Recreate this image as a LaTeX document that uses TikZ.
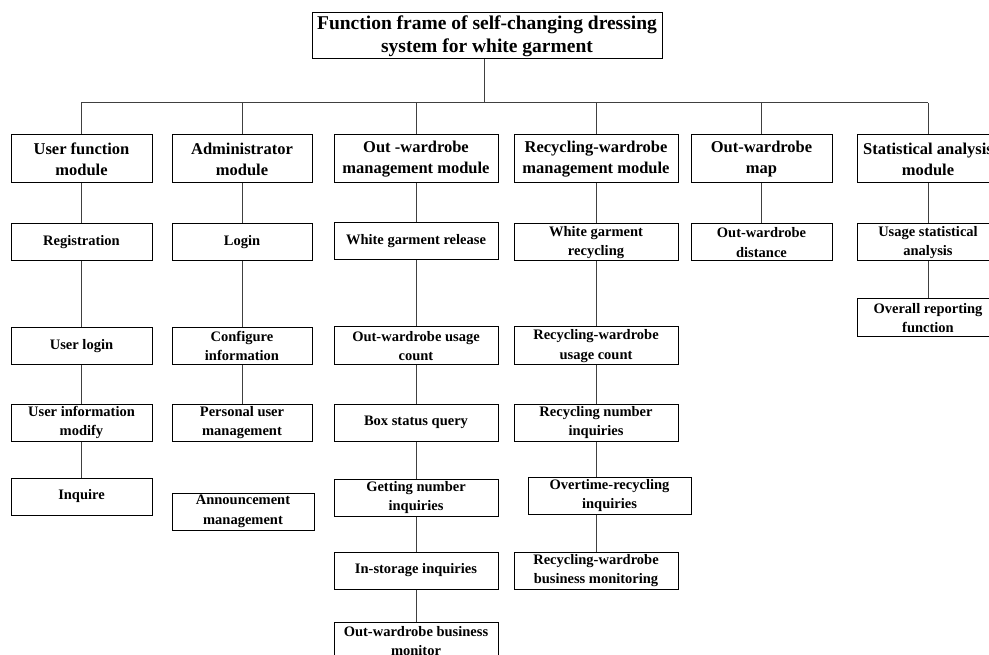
\documentclass[tikz,border=0pt]{standalone}
\usepackage{fontspec}
\setmainfont{Liberation Serif}
\begin{document}
\begin{tikzpicture}[x=1pt,y=-1pt,
  box/.style={draw=black,line width=1pt,fill=white,inner sep=0pt,align=center,font=\bfseries\fontsize{14.5}{19.5}\selectfont},
  modbox/.style={box,minimum height=48pt,font=\bfseries\fontsize{16.5}{21}\selectfont},
  subbox/.style={box,minimum height=37pt},
  titlebox/.style={box,minimum height=46pt,minimum width=350pt,font=\bfseries\fontsize{19.5}{23}\selectfont},
  link/.style={draw=black!75,line width=1pt}]
\clip (0,0) rectangle (989,655);
\fill[white] (0,0) rectangle (989,655);

% title
\node[titlebox] (title) at (487,36) {Function frame of self-changing dressing\\system for white garment};
\coordinate (stem) at (484,59);
\coordinate (barL) at (81,103);
\coordinate (barR) at (928,103);
\coordinate (barM) at (484,103);

% modules
\node[modbox,minimum width=141pt] (m1) at (81.5,159) {User function\\module};
\node[modbox,minimum width=140pt] (m2) at (242,159) {Administrator\\module};
\node[modbox,minimum width=164pt] (m3) at (416,159) {Out -wardrobe\\management module};
\node[modbox,minimum width=164pt] (m4) at (596,159) {Recycling-wardrobe\\management module};
\node[modbox,minimum width=141pt] (m5) at (761.5,159) {Out-wardrobe\\map};
\node[modbox,minimum width=142pt] (m6) at (928,159) {Statistical analysis\\module};

% column 1
\node[subbox,minimum width=141pt] (a1) at (81.5,242.5) {Registration};
\node[subbox,minimum width=141pt] (a2) at (81.5,346) {User login};
\node[subbox,minimum width=141pt] (a3) at (81.5,422.5) {User information\\modify};
\node[subbox,minimum width=141pt] (a4) at (81.5,496.5) {Inquire};

% column 2
\node[subbox,minimum width=140pt] (b1) at (242,242.5) {Login};
\node[subbox,minimum width=140pt] (b2) at (242,346) {Configure\\information};
\node[subbox,minimum width=140pt] (b3) at (242,422.5) {Personal user\\management};
\node[subbox,minimum width=142pt] (b4) at (243,511.5) {Announcement\\management};

% column 3
\node[subbox,minimum width=164pt] (c1) at (416,241.5) {White garment release};
\node[subbox,minimum width=164pt,minimum height=38pt] (c2) at (416,346) {Out-wardrobe usage\\count};
\node[subbox,minimum width=164pt] (c3) at (416,422.5) {Box status query};
\node[subbox,minimum width=164pt] (c4) at (416,497.5) {Getting number\\inquiries};
\node[subbox,minimum width=164pt] (c5) at (416,570.5) {In-storage inquiries};
\node[subbox,minimum width=164pt] (c6) at (416,641) {Out-wardrobe business\\monitor};

% column 4
\node[subbox,minimum width=164pt] (d1) at (596,242.5) {White garment\\recycling};
\node[subbox,minimum width=164pt,minimum height=38pt] (d2) at (596,346) {Recycling-wardrobe\\usage count};
\node[subbox,minimum width=164pt] (d3) at (596,422.5) {Recycling number\\inquiries};
\node[subbox,minimum width=163pt] (d4) at (609.5,495.5) {Overtime-recycling\\inquiries};
\node[subbox,minimum width=164pt] (d5) at (596,570.5) {Recycling-wardrobe\\business monitoring};

% column 5
\node[subbox,minimum width=141pt] (e1) at (761.5,242.5) {Out-wardrobe\\distance};

% column 6
\node[subbox,minimum width=142pt] (f1) at (928,242.5) {Usage statistical\\analysis};
\node[subbox,minimum width=142pt,minimum height=38pt] (f2) at (928,318) {Overall reporting\\function};

% connectors
\draw[link] (stem) -- (barM);
\draw[link] (barL) -- (barR);
\foreach \m in {m1,m2,m3,m4,m5,m6}{
  \draw[link] (\m.north |- barL) -- (\m.north);
}
\foreach \p/\c in {m1/a1,a1/a2,a2/a3,a3/a4,
                   m2/b1,b1/b2,b2/b3,
                   m3/c1,c1/c2,c2/c3,c3/c4,c4/c5,c5/c6,
                   m4/d1,d1/d2,d2/d3,d3/d4,
                   m5/e1,
                   m6/f1,f1/f2}{
  \draw[link] (\p.south) -- (\p.south |- \c.north);
}
\draw[link] (d3.south |- d4.south) -- (d3.south |- d5.north);
\end{tikzpicture}
\end{document}
